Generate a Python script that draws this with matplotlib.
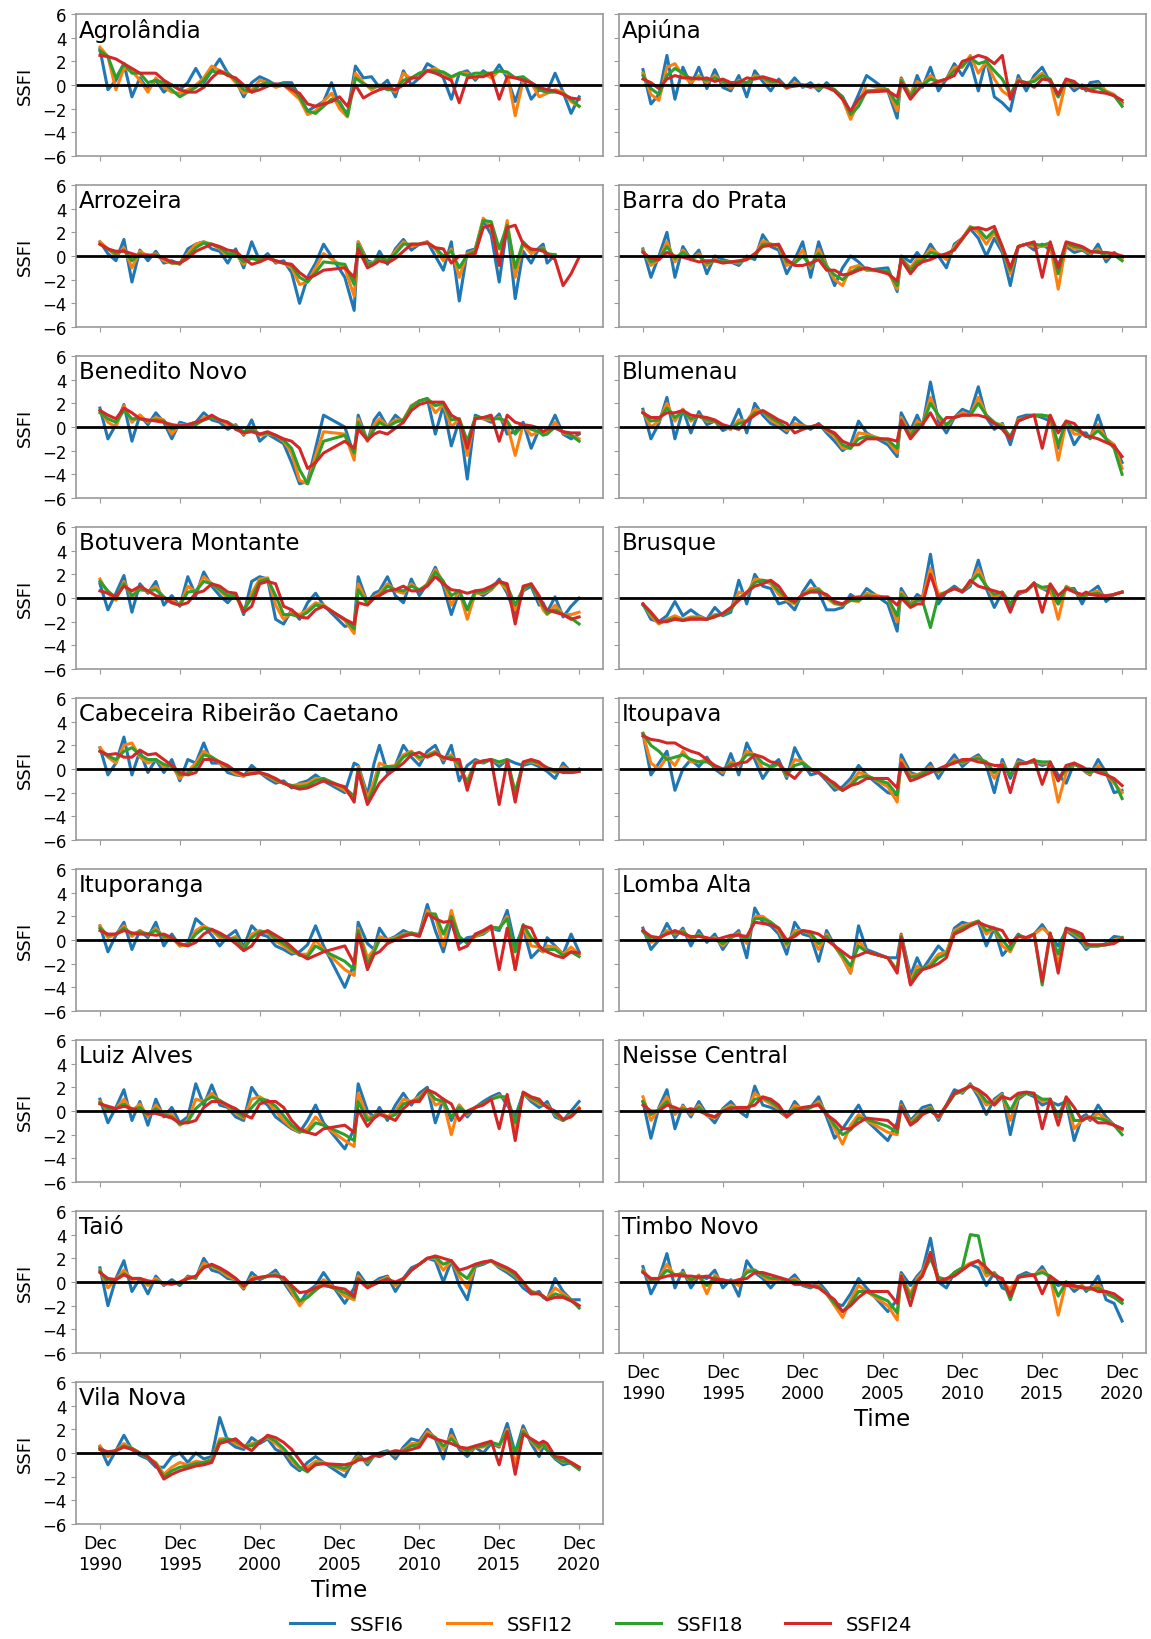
import numpy as np
import pandas as pd
import matplotlib
matplotlib.use('Agg')
import matplotlib.pyplot as plt
import matplotlib.dates as mdates

nan = np.nan

# half-yearly read-off dates; dates_b is used for every gauge except Agrolandia
dates_a = pd.date_range('1990-12-01', periods=61, freq='6MS')
dates_b = pd.DatetimeIndex(
    list(pd.date_range('1990-12-01', '2004-12-01', freq='6MS'))
    + list(pd.to_datetime(['2006-04-01', '2006-11-01', '2007-02-01', '2007-09-01', '2008-02-01']))
    + list(pd.date_range('2008-06-01', '2018-06-01', freq='6MS'))
    + [pd.Timestamp('2018-09-01')]
    + list(pd.date_range('2018-12-01', '2020-12-01', freq='6MS')))

tick_years = [1990, 1995, 2000, 2005, 2010, 2015, 2020]
tick_labels = ['Dec\n%d' % y for y in tick_years]

# ---- Agrolandia
agr_6 = [3.0,-0.4,0.4,1.8,-1.0,0.6,-0.4,0.4,-0.6,0.0, -0.4,0.2,1.4,0.2,1.2,2.2,1.0,0.4,-1.0,0.2,
         0.7,0.4,0.0,0.2,0.2,-1.0,-2.2,-1.8,-1.4,0.2, -1.8,-2.4,1.6,0.6,0.7,-0.2,0.4,-1.0,1.2,0.0,
         0.6,1.8,1.4,0.6,-1.2,1.0,1.2,0.4,1.2,0.7, 1.7,0.6,-1.4,0.6,-1.2,-0.4,-0.6,1.0,-0.6,-2.4,-1.0]
agr_12 = [3.2,2.4,-0.4,1.4,1.2,0.4,-0.6,0.6,-0.2,-0.6, -0.7,-0.4,0.0,0.6,1.6,1.2,1.0,0.2,-0.7,-0.4,
          0.4,0.2,-0.2,0.0,-0.6,-1.2,-2.5,-2.2,-1.4,-0.7, -2.0,-2.7,1.0,0.2,-0.4,0.0,-0.2,-0.6,1.0,0.5,
          1.0,1.2,1.4,1.0,0.6,1.0,1.0,0.6,1.0,0.6, 1.2,1.0,-2.6,0.4,0.2,-1.0,-0.7,-0.4,-0.6,-1.4,-1.8]
agr_18 = [2.9,2.4,0.6,1.8,1.0,1.0,0.2,0.4,0.2,-0.4, -1.0,-0.6,-0.2,0.4,1.2,1.0,1.0,0.4,-0.4,-0.6,
          0.0,0.2,0.0,0.1,-0.2,-1.0,-2.2,-2.4,-1.8,-1.2, -1.4,-2.6,0.6,0.1,-0.2,-0.1,-0.4,-0.4,0.4,0.6,
          1.0,1.2,1.2,1.1,0.7,1.0,0.8,1.0,1.0,1.0, 1.2,1.1,0.6,0.7,0.2,-0.4,-0.6,-0.6,-0.7,-1.2,-1.8]
agr_24 = [2.5,2.4,2.2,1.8,1.4,1.0,1.0,1.0,0.4,0.0, -0.4,-0.6,-0.6,-0.2,0.6,1.2,0.8,0.6,0.0,-0.6,
          -0.4,-0.1,0.1,0.0,-0.4,-0.7,-1.6,-1.8,-1.6,-1.4, -1.0,-1.8,0.0,-1.1,-0.7,-0.4,-0.2,-0.4,0.0,0.6,
          0.6,1.2,1.0,0.7,0.4,-1.5,0.6,0.7,0.7,1.0, -1.2,0.7,0.6,0.4,0.2,-0.2,-0.4,-0.5,-0.8,-1.1,-1.2]

# ---- Apiuna
api_6 = [1.3,-1.6,-0.8,2.5,-1.2,1.5,0.0,1.5,-0.3,1.3, -0.2,-0.5,0.8,-1.0,1.2,0.3,-0.5,0.5,-0.2,0.6,
         -0.2,0.2,-0.5,0.2,-0.5,-1.0,-2.3,-0.8,0.8,-0.5, -2.8,0.6,-1.0,0.8,-0.2,1.5,-0.5,0.5,1.8,0.8,
         2.0,-0.5,2.2,-1.0,-1.5,-2.2,0.8,-0.5,0.8,1.5, 0.2,-1.0,0.3,-0.5,0.0,-0.5,0.2,0.3,-0.6,-0.9,-1.5]
api_12 = [1.0,-0.8,-1.3,1.5,1.8,0.8,0.2,0.8,0.2,0.8, 0.2,-0.3,0.4,0.0,0.8,0.6,0.0,0.3,-0.3,0.2,
          -0.1,0.0,-0.3,0.0,-0.4,-1.2,-2.9,-1.5,0.0,-0.4, -2.2,0.5,-0.8,0.3,0.0,0.8,0.2,0.5,1.5,1.5,
          2.5,1.0,2.0,0.5,-0.5,-1.0,0.5,0.0,0.5,1.0, 0.3,-2.5,0.4,-0.2,0.0,-0.4,-0.2,0.1,-0.5,-0.8,-1.6]
api_18 = [0.8,-0.3,-0.8,0.8,1.4,1.0,0.5,0.6,0.4,0.6, 0.3,0.0,0.3,0.2,0.6,0.6,0.3,0.3,-0.2,0.0,
          0.0,0.0,-0.2,-0.1,-0.4,-1.0,-2.5,-1.8,-0.5,-0.4, -1.6,0.4,-1.0,0.0,0.0,0.5,0.3,0.5,1.2,1.6,
          2.3,1.8,2.0,1.2,0.5,-0.8,0.4,0.2,0.3,0.8, 0.5,-1.0,0.5,0.1,-0.1,-0.4,-0.4,-0.2,-0.6,-0.9,-1.8]
api_24 = [0.5,0.2,-0.3,0.5,0.8,0.6,0.6,0.5,0.6,0.3, 0.5,0.2,0.2,0.6,0.5,0.7,0.5,0.3,-0.2,-0.1,
          0.0,-0.2,0.0,-0.2,-0.5,-1.2,-2.2,-1.2,-0.6,-0.5, -1.0,0.2,-1.2,-0.5,0.0,0.0,0.3,0.5,0.8,2.0,
          2.2,2.5,2.3,1.8,2.5,-1.2,0.3,0.2,-0.2,0.5, 0.4,-0.8,0.5,0.3,-0.3,-0.3,-0.5,-0.6,-0.7,-0.9,-1.3]

# ---- Arrozeira
arr_6 = [1.2,0.2,-0.4,1.4,-2.2,0.5,-0.4,0.4,-0.6,-0.4, -0.7,0.6,1.0,1.2,0.6,0.4,-0.6,0.6,-1.0,1.2,
         -0.4,0.2,-0.6,-0.4,-1.4,-4.0,-1.8,-0.6,1.0,-1.8, -4.6,1.2,-0.4,-0.6,0.4,-0.7,0.6,1.4,0.5,1.0,
         1.2,0.0,-1.2,1.2,-3.8,0.4,0.6,3.0,1.8,-2.2, 2.6,-3.6,0.4,-0.6,0.7,1.0,-0.6,0.1,nan,nan,nan]
arr_12 = [1.2,0.6,0.0,0.7,-1.0,0.4,0.0,0.2,-0.4,-0.6, -0.6,0.2,1.0,1.2,1.0,0.6,0.0,0.2,-0.7,0.0,
          -0.4,0.0,-0.5,-0.6,-1.0,-2.4,-2.2,-1.0,0.2,-1.0, -3.4,1.2,-0.6,-0.5,0.0,-0.4,0.4,1.2,0.8,1.0,
          1.2,0.6,-0.4,0.6,-1.8,0.2,0.5,3.2,2.4,-0.6, 3.0,-1.8,1.0,0.2,0.6,0.7,0.0,0.0,nan,nan,nan]
arr_18 = [1.0,0.6,0.2,0.5,-0.4,0.2,0.0,0.1,-0.2,-0.6, -0.6,0.0,0.7,1.1,1.0,0.7,0.2,0.2,-0.5,-0.2,
          -0.4,-0.1,-0.4,-0.6,-0.8,-1.8,-2.2,-1.4,-0.5,-0.7, -2.4,1.0,-0.7,-0.6,-0.1,-0.4,0.2,1.0,1.0,1.0,
          1.1,0.7,0.0,0.4,-1.0,0.1,0.4,3.0,2.9,0.6, 2.6,-1.0,1.2,0.5,0.6,0.6,0.2,0.1,nan,nan,nan]
arr_24 = [1.0,0.6,0.4,0.4,0.2,0.0,0.1,0.0,-0.2,-0.5, -0.6,-0.2,0.4,0.7,1.0,0.8,0.5,0.4,-0.2,-0.7,
          -0.5,-0.2,-0.4,-0.6,-0.7,-1.4,-1.9,-1.6,-1.2,-1.0, -1.8,0.6,-1.0,-0.7,-0.4,-0.6,-0.2,0.4,1.0,1.0,
          1.1,0.7,0.6,-0.6,0.0,0.0,0.2,2.4,2.6,-0.8, 2.4,2.6,1.0,0.6,0.5,0.4,0.2,-0.3,-2.5,-1.5,-0.1]

# ---- Barra do Prata
bar_6 = [0.6,-1.8,0.0,2.0,-1.8,0.8,-0.3,0.5,-1.5,0.0, -0.3,-0.5,-0.8,0.0,-0.3,1.8,0.8,0.5,-1.5,-0.3,
         1.2,-1.8,1.2,-0.8,-2.5,-1.0,0.0,-0.5,-1.2,-1.0, -3.0,0.0,-0.5,0.3,-0.3,1.0,0.0,-1.0,1.0,1.5,
         2.3,1.5,0.0,1.5,0.3,-2.5,0.8,1.0,0.5,1.0, 0.5,-0.8,0.8,0.3,0.5,0.3,0.0,1.0,-0.5,0.3,-0.2]
bar_12 = [0.5,-0.8,-0.3,1.2,-0.5,0.5,-0.3,0.2,-0.8,-0.3, -0.5,-0.5,-0.6,-0.2,0.0,1.3,1.0,0.8,-0.8,-0.5,
          0.5,-1.0,0.6,-0.8,-2.0,-2.5,-1.0,-0.8,-1.2,-1.3, -2.8,-0.2,-1.0,-0.2,-0.3,0.6,0.2,-0.3,0.8,1.5,
          2.5,2.0,1.0,2.0,0.6,-1.5,0.8,1.0,0.8,0.8, 1.0,-2.8,1.0,0.6,0.6,0.4,0.2,0.6,-0.2,0.2,-0.2]
bar_18 = [0.4,-0.5,-0.3,0.8,-0.2,0.3,-0.2,0.0,-0.6,-0.4, -0.5,-0.5,-0.5,-0.3,0.0,1.0,1.0,0.9,-0.5,-0.6,
          0.0,-0.8,0.2,-0.9,-1.6,-2.0,-1.4,-1.0,-1.1,-1.3, -2.5,-0.2,-1.2,-0.5,-0.4,0.3,0.1,0.0,0.6,1.4,
          2.4,2.3,1.5,2.2,0.7,-1.2,0.8,1.0,1.0,0.9, 1.1,-1.5,1.1,0.8,0.7,0.5,0.3,0.4,0.0,0.1,-0.4]
bar_24 = [0.3,-0.2,-0.3,0.3,0.0,-0.1,-0.3,-0.5,-0.4,-0.4, -0.6,-0.5,-0.4,-0.3,0.2,0.8,0.9,1.0,-0.3,-0.8,
          -0.8,-0.6,-0.3,-1.2,-1.2,-1.6,-1.5,-1.2,-1.0,-1.5, -2.1,-0.3,-1.5,-0.8,-0.5,-0.3,0.0,0.2,0.5,1.5,
          2.3,2.4,2.2,2.5,0.8,-1.0,0.8,1.0,1.2,-1.8, 1.2,-1.0,1.2,1.0,0.8,0.6,0.4,0.3,0.3,0.2,0.0]

# ---- Benedito Novo
ben_6 = [1.6,-1.0,0.2,1.9,-1.2,1.0,0.2,1.2,0.4,-1.0, 0.4,0.2,0.4,1.2,0.6,0.4,-0.2,0.2,-0.7,0.6,
         -1.2,-0.6,-1.0,-1.4,-3.0,-4.8,-4.6,-1.8,1.0,0.0, -2.4,1.0,-1.2,0.6,1.2,0.0,1.0,0.4,1.8,2.2,
         2.4,-0.6,1.8,-1.6,0.6,-4.4,1.0,0.7,0.4,1.1, -0.6,-0.4,0.4,-1.8,-0.2,-0.6,-0.4,1.0,-0.6,-1.0,-0.6]
ben_12 = [1.4,0.4,0.0,1.8,0.4,1.0,0.4,0.8,0.6,-0.6, 0.2,0.2,0.2,0.8,0.8,0.6,0.2,0.1,-0.6,0.0,
          -0.7,-0.6,-0.7,-1.2,-2.2,-4.5,-4.8,-2.4,-0.4,-0.6, -2.8,0.7,-1.2,0.2,0.7,0.1,0.6,0.6,1.8,2.2,
          2.4,1.2,1.9,0.0,0.7,-2.4,0.8,0.7,0.6,0.8, 0.2,-2.4,0.2,-0.7,-0.4,-0.6,-0.5,0.4,-0.5,-0.7,-1.0]
ben_18 = [1.2,0.7,0.4,1.4,0.7,0.7,0.5,0.6,0.5,-0.2, 0.1,0.2,0.2,0.6,0.8,0.6,0.4,0.0,-0.4,-0.2,
          -0.6,-0.5,-0.7,-1.1,-1.8,-3.6,-4.8,-3.0,-1.2,-0.7, -2.2,0.4,-1.1,-0.2,0.4,0.0,0.4,0.6,1.7,2.2,
          2.4,1.8,2.0,0.6,0.7,-1.2,0.8,0.8,0.7,0.7, 0.5,-0.6,0.2,-0.2,-0.4,-0.7,-0.6,0.0,-0.4,-0.7,-1.2]
ben_24 = [1.4,1.0,0.7,1.6,1.2,0.7,0.6,0.5,0.4,0.2, 0.1,0.2,0.4,0.6,1.0,0.6,0.4,-0.2,-0.5,-0.4,
          -0.6,-0.4,-0.7,-1.0,-1.2,-1.8,-3.5,-3.0,-2.2,-1.2, -1.8,-0.2,-1.1,-0.6,-0.4,-0.6,-0.1,0.4,1.4,1.9,
          2.1,2.1,2.1,1.0,0.6,-1.8,0.7,0.8,1.0,-1.2, 1.0,0.4,0.2,0.1,-0.1,-0.4,-0.2,-0.1,-0.4,-0.5,-0.5]

# ---- Blumenau
blu_6 = [1.5,-1.0,0.3,2.5,-1.0,1.5,-0.5,1.3,0.2,0.5, -0.3,0.0,1.5,-0.5,2.0,1.0,0.3,0.0,-0.5,0.8,
         0.2,-0.2,0.3,-0.5,-1.2,-2.0,-1.5,0.5,-0.5,-1.5, -2.5,1.2,-0.3,1.0,0.0,3.8,0.5,-0.5,0.8,1.5,
         1.2,3.4,0.8,-0.2,0.3,-1.5,0.8,1.0,1.0,0.8, 0.5,-1.8,0.3,-1.5,-0.5,-0.5,-1.0,1.0,-1.0,-1.5,-3.0]
blu_12 = [1.3,0.0,0.5,2.0,0.5,1.5,0.5,1.0,0.5,0.5, 0.0,-0.2,0.6,0.5,1.5,1.3,0.6,0.2,-0.3,0.3,
          0.1,0.0,0.2,-0.3,-0.8,-1.8,-1.8,-0.5,-0.6,-1.2, -2.2,0.8,-0.6,0.5,0.2,2.5,0.8,0.0,0.8,1.2,
          1.0,2.5,1.0,0.3,0.2,-1.0,0.6,0.8,1.0,1.0, 0.8,-2.8,0.4,-0.6,-0.6,-0.8,-0.8,0.2,-1.0,-1.5,-3.5]
blu_18 = [1.2,0.5,0.6,1.6,0.8,1.3,0.7,0.9,0.6,0.5, 0.1,-0.1,0.3,0.5,1.2,1.3,0.8,0.4,-0.1,0.0,
          0.0,0.0,0.2,-0.2,-0.6,-1.5,-1.8,-1.0,-0.8,-1.1, -1.8,0.6,-0.8,0.2,0.2,2.0,1.0,0.2,0.8,1.0,
          1.0,2.0,1.0,0.4,0.0,-0.8,0.5,0.8,1.0,1.0, 0.9,-1.5,0.5,-0.2,-0.5,-0.8,-0.9,-0.3,-1.0,-1.8,-4.0]
blu_24 = [1.2,0.8,0.8,1.2,1.2,1.4,1.0,0.9,0.8,0.6, 0.2,0.0,-0.2,0.5,1.0,1.4,1.0,0.6,0.3,-0.5,
          -0.2,0.0,0.2,-0.2,-0.5,-1.2,-1.5,-1.5,-1.0,-1.0, -1.2,0.5,-1.0,-0.3,0.2,1.2,0.0,0.8,0.8,1.0,
          1.0,1.0,0.8,0.3,-0.2,-1.0,0.5,0.8,1.0,-1.8, 1.0,-0.5,0.5,0.3,-0.5,-0.8,-0.8,-1.0,-1.3,-1.6,-2.5]

# ---- Botuvera Montante
bot_6 = [1.2,-1.0,0.4,1.9,-1.2,1.2,0.4,1.4,-0.6,0.2, -0.7,1.8,0.2,2.2,1.0,0.2,-0.4,0.4,-1.4,1.4,
         1.8,1.6,-1.8,-2.2,-1.0,-1.8,-0.4,0.4,-0.6,-2.4, -2.2,1.8,-0.4,0.4,0.6,1.8,0.2,-0.4,1.6,0.2,
         1.2,2.6,1.0,-1.4,0.6,-1.0,0.6,0.2,0.7,1.6, 0.4,-1.4,0.6,1.0,-0.6,-0.4,-1.2,0.1,-1.6,-0.7,0.0]
bot_12 = [1.6,0.4,-0.2,1.4,0.0,1.0,0.5,1.0,0.0,-0.2, -0.6,1.0,0.5,1.8,1.2,0.6,0.0,0.2,-1.2,0.4,
          1.6,1.7,-0.6,-1.8,-1.2,-1.4,-1.0,-0.4,-0.6,-1.9, -3.0,1.2,-0.4,0.1,0.4,1.2,0.6,0.4,1.2,0.6,
          1.2,2.4,1.4,-0.6,0.6,-1.8,0.4,0.4,0.7,1.4, 0.7,-1.0,0.7,1.2,-0.2,-1.0,-1.4,-0.6,-1.4,-1.4,-1.2]
bot_18 = [1.4,0.6,0.0,1.2,0.2,0.7,0.6,0.7,0.1,-0.4, -0.6,0.5,0.6,1.4,1.2,0.7,0.2,0.2,-1.0,0.0,
          1.4,1.6,0.2,-1.4,-1.4,-1.6,-1.2,-0.6,-0.7,-1.8, -2.6,0.7,-0.5,0.0,0.2,1.0,0.7,0.6,1.0,0.7,
          1.1,2.2,1.4,0.2,0.6,-1.0,0.5,0.5,0.8,1.4, 1.0,-0.6,0.8,1.1,0.0,-0.7,-1.3,-1.0,-1.4,-1.7,-2.2]
bot_24 = [0.6,0.4,0.1,1.0,0.6,1.0,0.6,0.2,0.0,-0.4, -0.6,-0.4,0.4,0.6,1.2,1.0,0.5,0.4,-1.2,-0.7,
          1.2,1.4,1.2,-0.7,-1.0,-1.6,-1.7,-1.0,-0.7,-1.8, -2.2,-0.4,-0.6,0.0,0.2,0.6,0.7,1.0,0.6,0.6,
          1.0,1.8,1.2,0.7,0.6,0.4,0.6,0.7,1.0,1.4, 1.2,-2.2,1.0,1.2,0.2,-0.6,-1.0,-1.2,-1.4,-1.8,-1.6]

# ---- Brusque
bru_6 = [-0.5,-1.8,-2.0,-1.5,-0.3,-1.5,-1.0,-1.5,-1.8,-0.8, -1.5,-1.2,1.5,-0.5,2.0,1.0,0.8,-0.5,-0.3,-1.0,
         0.5,1.5,0.5,-1.0,-1.0,-0.8,0.3,-0.2,0.8,-0.5, -2.8,0.8,-0.5,0.3,0.0,3.7,-0.5,0.5,1.0,0.5,
         1.0,3.2,0.8,-0.8,0.5,-0.8,0.3,0.6,1.2,0.8, 0.5,-0.5,0.8,0.8,-0.5,0.2,0.5,1.0,-0.3,0.3,0.5]
bru_12 = [-0.5,-1.5,-2.2,-1.8,-1.5,-1.8,-1.6,-1.6,-1.8,-1.4, -1.4,-1.0,0.5,0.3,1.6,1.5,1.2,0.3,-0.2,-0.5,
          0.3,0.8,0.8,0.0,-0.5,-0.6,-0.2,-0.3,0.4,0.0, -2.0,0.5,-0.5,0.0,0.0,2.5,0.3,0.5,0.8,0.6,
          1.2,2.5,1.0,0.0,0.5,-0.5,0.4,0.6,1.2,0.8, 0.8,-1.8,1.0,0.6,0.0,0.2,0.4,0.6,0.0,0.3,0.5]
bru_18 = [-0.6,-1.3,-2.1,-1.9,-1.7,-1.9,-1.7,-1.7,-1.8,-1.5, -1.4,-1.0,0.0,0.4,1.3,1.5,1.4,0.6,0.0,-0.4,
          0.2,0.6,0.7,0.2,-0.4,-0.6,-0.2,-0.2,0.2,0.0, -1.5,0.3,-0.6,-0.2,-0.2,-2.5,0.2,0.5,0.8,0.6,
          1.3,2.0,1.0,0.3,0.5,-0.5,0.5,0.6,1.2,0.9, 1.0,-0.5,0.9,0.6,0.1,0.3,0.3,0.4,0.1,0.3,0.5]
bru_24 = [-0.5,-1.2,-2.0,-2.0,-1.8,-1.9,-1.8,-1.8,-1.8,-1.6, -1.3,-0.8,-0.2,0.5,1.0,1.2,1.5,1.0,0.0,-0.3,
          0.3,0.5,0.5,0.3,-0.3,-0.5,0.0,0.1,0.0,0.1, -0.6,0.0,-0.8,-0.5,-0.5,2.0,0.0,0.5,0.8,0.5,
          1.5,1.0,0.8,0.6,0.4,-1.2,0.5,0.6,1.3,-1.2, 1.2,0.2,0.8,0.5,0.3,0.5,0.3,0.2,0.2,0.3,0.5]

# ---- Cabeceira Ribeirao Caetano
cab_6 = [1.8,-0.5,0.5,2.7,-0.5,1.5,-0.3,0.8,-0.3,0.8, -1.0,0.8,0.5,2.2,0.5,0.5,-0.3,-0.5,-0.6,0.3,
         -0.3,-0.8,-1.2,-1.0,-1.6,-1.2,-1.0,-0.5,-1.0,-2.0, 0.5,0.3,-2.2,0.5,2.0,-0.3,0.3,2.0,1.0,0.3,
         1.5,2.0,0.5,2.0,-1.0,0.3,0.8,0.5,0.8,0.2, 0.8,0.5,0.3,0.5,0.2,0.0,-0.2,-0.8,0.5,-0.3,0.0]
cab_12 = [1.8,1.0,0.5,2.0,2.2,1.0,0.5,0.8,0.2,0.3, -0.8,-0.2,0.5,1.5,1.0,0.5,0.0,-0.4,-0.6,-0.2,
          -0.3,-0.6,-1.0,-1.2,-1.4,-1.3,-1.2,-0.8,-0.8,-1.8, -2.5,0.2,-2.5,-1.0,0.5,0.2,0.3,1.2,1.5,0.8,
          1.2,1.5,0.8,1.2,0.0,-1.0,0.6,0.6,0.8,0.5, 0.8,-2.0,0.5,0.6,0.4,0.2,0.0,-0.3,0.2,-0.2,-0.1]
cab_18 = [1.5,1.1,0.8,1.5,1.8,1.2,0.8,0.8,0.4,0.2, -0.5,-0.4,0.2,1.2,1.0,0.6,0.2,-0.2,-0.5,-0.4,
          -0.3,-0.5,-0.9,-1.2,-1.4,-1.5,-1.4,-1.0,-0.8,-1.6, -2.3,0.0,-2.8,-1.5,0.0,0.2,0.2,1.0,1.4,1.0,
          1.1,1.4,0.9,1.0,0.4,-1.2,0.5,0.6,0.8,0.6, 0.8,-2.0,0.5,0.7,0.5,0.3,0.1,-0.2,-0.1,-0.3,-0.2]
cab_24 = [1.5,1.2,1.3,1.0,1.0,1.6,1.2,1.3,0.8,0.3, -0.3,-0.5,-0.3,0.8,0.8,0.6,0.3,-0.2,-0.5,-0.4,
          -0.3,-0.5,-0.8,-1.2,-1.5,-1.7,-1.6,-1.3,-1.0,-1.5, -2.8,-0.2,-3.0,-2.0,-1.2,-0.5,0.0,0.5,1.2,1.4,
          1.0,1.3,1.0,0.8,0.8,-1.8,0.5,0.7,0.8,-3.0, 0.7,-2.8,0.6,0.8,0.6,0.3,0.1,-0.1,-0.3,-0.3,-0.2]

# ---- Itoupava
ito_6 = [3.0,-0.5,0.5,1.5,-1.8,0.0,0.8,0.2,1.0,0.0, -0.5,1.3,-0.5,2.2,0.8,-0.8,0.2,0.8,-0.8,1.8,
         0.5,-0.5,-0.3,-1.0,-1.8,-1.5,-0.8,0.3,-0.5,-2.0, -2.2,1.2,-0.3,-0.5,-0.3,0.5,-0.8,0.3,1.2,0.2,
         0.8,1.2,0.3,-2.0,0.8,-0.8,0.8,0.5,0.6,0.3, 0.5,-0.5,-1.2,0.5,0.0,-0.3,-0.5,0.8,-0.3,-2.0,-1.8]
ito_12 = [3.0,0.5,0.0,1.0,0.3,1.5,0.6,0.6,0.8,0.2, -0.3,0.6,0.3,1.5,1.2,0.0,0.0,0.5,-0.6,0.8,
          0.6,0.0,-0.3,-0.8,-1.5,-1.8,-1.2,-0.3,-0.5,-1.5, -2.8,0.8,-0.5,-0.5,-0.3,0.2,-0.3,0.2,0.8,0.5,
          0.8,1.0,0.5,-0.8,0.5,-0.5,0.6,0.5,0.6,0.5, 0.5,-2.8,-0.3,0.4,0.1,-0.3,-0.4,0.3,-0.4,-1.2,-2.0]
ito_18 = [3.0,2.0,1.5,0.8,1.0,1.2,0.8,0.6,0.6,0.2, -0.1,0.4,0.4,1.2,1.2,0.5,0.2,0.4,-0.5,0.3,
          0.5,0.0,-0.3,-0.7,-1.4,-1.8,-1.4,-0.7,-0.6,-1.2, -2.2,0.5,-0.7,-0.6,-0.4,0.0,-0.2,0.2,0.6,0.6,
          0.8,0.9,0.6,-0.3,0.4,-0.5,0.5,0.5,0.7,0.6, 0.6,-1.0,0.0,0.4,0.1,-0.2,-0.3,0.0,-0.4,-1.0,-2.5]
ito_24 = [2.8,2.5,2.4,2.2,2.2,1.8,1.5,1.3,0.8,0.3, 0.0,0.2,0.5,0.6,1.2,1.0,0.6,0.5,-0.3,-0.8,
          0.0,-0.1,-0.3,-0.8,-1.2,-1.8,-1.4,-1.2,-0.8,-0.8, -1.6,0.5,-1.0,-0.8,-0.6,-0.3,0.0,0.3,0.5,0.8,
          0.8,0.6,0.5,0.3,0.3,-2.0,0.4,0.5,0.8,-1.3, 0.6,-1.0,0.3,0.5,0.2,0.0,0.0,-0.3,-0.5,-0.8,-1.4]

# ---- Ituporanga
itu_6 = [1.2,-1.0,0.4,1.5,-0.8,0.8,0.2,1.5,-0.5,0.5, -0.5,-0.3,1.8,1.2,0.4,-0.5,0.3,0.8,-0.6,1.2,
         0.5,0.3,-0.5,-0.8,-1.2,-1.0,-0.4,1.2,-0.5,-4.0, -2.0,1.5,-0.3,-0.8,1.0,0.0,0.3,0.8,0.5,0.5,
         3.0,0.8,-1.0,1.5,-0.3,0.2,0.3,0.5,1.0,0.8, 2.5,-0.5,1.0,-1.5,-0.8,-1.0,0.2,-0.5,-1.2,0.5,-1.0]
itu_12 = [1.2,0.2,0.5,1.2,0.3,0.8,0.4,1.0,0.2,0.2, -0.5,-0.4,0.8,1.2,0.8,0.2,0.0,0.3,-0.8,0.5,
          0.8,0.6,-0.1,-0.5,-1.0,-1.2,-1.2,0.0,-0.8,-2.5, -3.0,1.0,-1.5,-0.8,0.3,0.0,0.2,0.5,0.6,0.4,
          2.5,2.0,-0.5,2.5,0.2,-0.2,0.3,0.6,1.0,1.0, 2.0,-2.5,1.2,-0.5,-0.6,-1.0,-0.5,-0.6,-1.2,-0.6,-1.2]
itu_18 = [1.0,0.4,0.5,1.0,0.5,0.7,0.5,0.8,0.3,0.2, -0.4,-0.4,0.5,1.0,0.9,0.4,0.1,0.1,-0.8,0.2,
          0.7,0.7,0.1,-0.3,-0.8,-1.3,-1.4,-0.5,-0.9,-1.8, -2.5,0.8,-2.0,-1.0,0.0,-0.1,0.1,0.4,0.6,0.4,
          2.2,2.2,0.5,2.0,0.3,-0.3,0.4,0.7,1.1,1.0, 1.8,-1.0,1.3,0.2,-0.5,-0.9,-0.8,-0.8,-1.3,-1.0,-1.4]
itu_24 = [0.8,0.5,0.5,0.8,0.6,0.5,0.5,0.4,0.5,0.2, -0.3,-0.5,-0.2,0.5,0.9,0.6,0.2,-0.3,-0.9,-0.5,
          0.5,0.8,0.4,0.0,-0.6,-1.2,-1.6,-1.3,-1.0,-0.5, -2.0,0.5,-2.5,-1.2,-1.0,-0.3,0.0,0.3,0.5,0.3,
          2.2,1.8,1.5,1.6,-0.8,-0.5,0.5,0.8,1.2,-2.5, 1.0,-2.5,1.2,1.0,-0.5,-0.8,-1.0,-1.3,-1.5,-1.0,-1.1]

# ---- Lomba Alta
lom_6 = [1.0,-0.8,0.0,1.4,0.2,1.0,-0.5,0.8,-0.2,0.5, -0.8,0.2,0.8,-1.5,2.7,1.5,1.2,0.5,-1.2,1.5,
         0.5,0.3,-1.8,0.8,-0.5,-1.5,-2.8,1.2,-0.8,-1.5, -1.5,0.5,-3.0,-1.5,-2.5,-1.5,-0.5,-1.2,1.0,1.5,
         1.3,1.5,-0.5,1.0,-1.3,-0.5,0.5,0.0,0.5,1.3, 0.3,-0.5,0.8,0.3,-0.3,-0.8,-0.5,-0.5,-0.3,0.3,0.2]
lom_12 = [0.8,-0.2,0.1,0.8,0.5,0.8,0.0,0.5,0.0,0.2, -0.5,0.2,0.6,-0.3,2.0,2.0,1.5,0.8,-0.5,0.8,
          0.8,0.5,-0.8,0.5,-0.5,-1.5,-2.8,0.0,-1.0,-1.5, -2.5,0.4,-3.5,-2.2,-2.5,-2.0,-1.2,-1.0,0.8,1.2,
          1.4,1.6,0.5,1.0,-0.5,-1.0,0.4,0.1,0.5,1.0, 0.5,-2.0,0.9,0.5,0.0,-0.6,-0.5,-0.5,-0.4,0.0,0.2]
lom_18 = [0.7,0.0,0.1,0.6,0.6,0.7,0.2,0.4,0.1,0.1, -0.3,0.2,0.5,0.0,1.8,1.8,1.5,1.0,-0.3,0.5,
          0.8,0.6,-0.3,0.3,-0.5,-1.3,-2.2,-0.5,-1.0,-1.5, -2.6,0.3,-3.7,-2.6,-2.4,-2.2,-1.5,-1.2,0.6,1.0,
          1.3,1.6,0.8,1.0,0.0,-0.8,0.4,0.2,0.5,-3.8, 0.5,-1.2,1.0,0.6,0.2,-0.5,-0.5,-0.5,-0.4,-0.2,0.2]
lom_24 = [0.8,0.3,0.2,0.5,0.8,0.5,0.3,0.3,0.2,0.0, 0.2,0.4,0.4,0.3,1.5,1.4,1.3,1.0,0.0,0.3,
          0.8,0.7,0.5,0.0,-0.5,-1.0,-1.5,-1.3,-1.0,-1.5, -2.8,0.2,-3.8,-3.0,-2.5,-2.3,-2.0,-1.5,0.5,0.8,
          1.2,1.5,1.2,1.0,0.8,-0.3,0.3,0.2,0.5,-3.5, 0.6,-2.8,1.0,0.8,0.5,-0.3,-0.4,-0.4,-0.4,-0.3,0.1]

# ---- Luiz Alves
lui_6 = [1.0,-1.0,0.3,1.8,-0.8,0.8,-1.2,1.0,-0.5,0.3, -1.0,-0.5,2.3,0.5,2.2,0.5,0.3,-0.5,-0.8,2.0,
         1.0,0.5,-0.5,-1.0,-1.5,-1.8,-0.8,0.5,-1.0,-3.2, -1.5,2.3,0.0,-0.5,0.3,-0.8,0.5,1.5,0.5,1.5,
         2.0,-1.0,1.0,-0.8,0.5,-0.5,0.3,0.8,1.2,1.5, 0.5,-0.5,1.5,0.8,0.3,0.5,0.8,-0.5,-0.8,0.0,0.8]
lui_12 = [0.8,0.0,0.2,1.0,0.0,0.6,-0.5,0.5,-0.3,-0.3, -1.2,-0.8,1.0,0.8,1.5,0.8,0.4,-0.2,-0.6,1.0,
          1.2,0.8,0.0,-0.8,-1.4,-1.8,-1.5,-0.5,-1.2,-2.5, -3.0,1.5,-0.5,-0.5,0.0,-0.5,0.0,1.0,0.8,1.2,
          1.8,0.5,0.8,-2.0,0.5,-0.3,0.3,0.6,1.0,1.3, 1.0,-1.8,1.4,1.0,0.6,0.5,0.5,-0.3,-0.8,-0.3,0.3]
lui_18 = [0.7,0.2,0.2,0.6,0.1,0.3,-0.3,0.2,-0.3,-0.5, -1.1,-0.9,0.2,0.8,1.2,0.9,0.5,0.0,-0.5,0.3,
          1.0,0.9,0.4,-0.4,-1.2,-1.7,-1.8,-1.0,-1.2,-2.0, -2.5,0.8,-0.8,-0.5,-0.2,-0.6,-0.3,0.6,0.8,1.0,
          1.8,1.0,0.8,-0.5,0.3,-0.2,0.3,0.6,1.0,1.2, 1.2,-1.0,1.5,1.1,0.8,0.5,0.4,-0.2,-0.8,-0.4,0.1]
lui_24 = [0.6,0.4,0.2,0.4,0.2,0.0,-0.2,-0.2,-0.4,-0.6, -1.0,-1.0,-0.8,0.3,0.8,0.8,0.5,0.2,-0.3,-0.6,
          0.6,0.8,0.8,0.3,-0.8,-1.5,-1.8,-2.0,-1.5,-1.2, -1.8,0.1,-1.3,-0.6,-0.3,-0.5,-0.8,0.2,0.8,0.8,
          1.8,1.5,1.0,0.6,-0.8,0.0,0.3,0.5,1.0,-1.5, 1.4,-2.5,1.6,1.2,1.0,0.6,0.3,0.0,-0.7,-0.5,0.2]

# ---- Neisse Central
nei_6 = [0.8,-2.3,0.3,1.8,-1.5,0.5,-0.5,0.8,-0.3,-1.0, 0.2,0.8,0.0,-0.5,2.1,0.5,0.3,0.0,-0.5,0.8,
         0.0,0.3,1.2,-0.5,-2.3,-1.5,-0.5,0.5,-0.8,-2.5, -1.0,0.8,-0.8,-0.2,0.3,0.5,-0.8,0.5,1.8,1.5,
         2.3,1.2,-0.3,1.0,1.5,-2.0,1.0,1.5,1.2,0.5, 0.8,0.5,0.8,-2.5,-0.5,-0.3,-0.8,0.5,-0.5,-1.2,-1.5]
nei_12 = [1.2,-0.8,0.2,1.2,-0.3,0.4,-0.3,0.5,-0.4,-0.6, 0.1,0.5,0.2,0.0,1.5,1.0,0.6,0.2,-0.5,0.5,
          0.2,0.3,0.8,-0.2,-1.5,-2.8,-1.2,-0.3,-0.8,-1.8, -2.0,0.5,-1.0,-0.4,0.0,0.3,-0.6,0.4,1.5,1.6,
          2.2,1.5,0.5,0.8,1.4,-0.8,1.2,1.5,1.4,0.8, 1.0,-0.5,1.0,-1.5,-0.8,-0.5,-0.7,-0.2,-0.7,-1.2,-1.6]
nei_18 = [0.8,-0.3,0.1,0.8,0.0,0.2,-0.1,0.3,-0.3,-0.5, 0.0,0.3,0.2,0.1,1.0,1.1,0.8,0.3,-0.4,0.2,
          0.2,0.3,0.6,-0.2,-1.2,-2.0,-1.6,-0.6,-0.7,-1.3, -1.8,0.4,-1.1,-0.6,-0.1,0.2,-0.5,0.4,1.4,1.7,
          2.1,1.7,0.8,0.6,1.3,0.0,1.3,1.5,1.4,1.0, 1.0,-0.5,1.1,-0.8,-0.8,-0.6,-0.6,-0.6,-0.8,-1.2,-2.0]
nei_24 = [0.5,0.0,0.0,0.5,0.3,0.0,0.2,0.0,-0.3,-0.5, 0.0,0.2,0.3,0.3,0.5,1.2,1.0,0.5,-0.5,0.0,
          0.3,0.4,0.5,-0.3,-0.8,-1.5,-1.5,-1.0,-0.6,-0.8, -1.5,0.3,-1.2,-0.8,-0.3,0.0,-0.5,0.5,1.5,1.8,
          2.1,1.8,1.3,0.5,1.2,1.0,1.5,1.6,1.5,-1.5, 1.0,-1.2,1.2,0.3,-0.8,-0.6,-0.5,-1.0,-1.0,-1.2,-1.5]

# ---- Taio
tai_6 = [1.2,-2.0,0.3,1.8,-0.8,0.3,-1.0,0.5,-0.3,0.2, -0.3,0.5,0.3,2.0,1.0,0.8,0.3,0.2,-0.6,0.8,
         0.2,0.5,1.0,0.0,-1.0,-1.8,-0.8,-0.3,0.8,-1.8, -0.5,0.8,-0.3,0.0,0.3,0.5,-0.8,0.3,1.2,1.5,
         2.0,1.8,0.0,1.8,-0.3,-1.5,1.3,1.5,1.8,1.2, 0.8,0.3,-0.5,-1.0,-0.8,-1.3,-1.5,0.3,-0.8,-1.5,-1.5]
tai_12 = [1.0,-0.5,0.2,1.0,0.2,0.3,-0.3,0.3,-0.2,0.0, -0.1,0.4,0.4,1.6,1.3,1.0,0.5,0.2,-0.5,0.4,
          0.3,0.5,0.7,0.2,-0.8,-2.0,-1.2,-0.5,0.2,-1.2, -1.5,0.5,-0.4,-0.1,0.1,0.4,-0.3,0.2,1.0,1.5,
          2.0,2.0,1.0,1.8,0.5,-0.5,1.4,1.6,1.8,1.3, 1.0,0.5,-0.2,-0.8,-1.0,-1.2,-1.4,-0.5,-1.0,-1.5,-2.0]
tai_18 = [0.9,0.0,0.2,0.7,0.3,0.3,-0.1,0.1,-0.1,-0.1, -0.1,0.3,0.4,1.3,1.4,1.1,0.7,0.3,-0.4,0.2,
          0.3,0.5,0.6,0.3,-0.5,-1.6,-1.3,-0.7,-0.2,-0.9, -1.3,0.3,-0.4,-0.2,0.0,0.3,-0.1,0.2,1.0,1.5,
          2.0,2.1,1.5,1.8,0.8,0.3,1.4,1.6,1.8,1.4, 1.1,0.6,-0.1,-0.8,-1.0,-1.2,-1.5,-1.0,-1.2,-1.5,-2.2]
tai_24 = [0.8,0.3,0.2,0.6,0.3,0.3,0.1,0.0,-0.1,-0.2, 0.0,0.3,0.5,1.2,1.5,1.2,0.8,0.3,-0.3,0.2,
          0.4,0.5,0.5,0.4,-0.3,-0.9,-0.8,-0.5,-0.3,-0.6, -1.2,0.2,-0.5,-0.2,0.0,0.2,0.0,0.3,1.0,1.5,
          2.0,2.2,2.0,1.8,1.0,1.2,1.5,1.7,1.8,1.5, 1.2,0.8,0.0,-1.0,-1.0,-1.2,-1.5,-1.3,-1.3,-1.6,-2.0]

# ---- Timbo Novo
tim_6 = [1.3,-1.0,0.3,2.4,-0.5,1.0,-0.5,0.5,0.3,1.0, -0.5,0.2,-1.2,1.8,0.8,0.3,-0.5,0.3,0.0,0.6,
         -0.3,-0.5,0.0,-0.8,-1.8,-2.0,-1.0,0.3,-0.5,-2.5, -1.5,0.8,-0.3,0.5,1.0,3.7,0.0,-0.5,0.8,1.2,
         1.5,1.2,-0.3,0.8,-0.5,-0.8,0.5,0.8,0.5,1.3, 0.2,-0.3,0.0,-0.8,-0.3,-0.8,-0.5,0.5,-1.5,-1.8,-3.3]
tim_12 = [1.0,0.0,0.3,1.5,0.5,0.8,0.0,0.6,-1.0,0.6, 0.0,0.1,-0.3,1.0,1.0,0.5,0.0,0.3,0.0,0.3,
          -0.2,-0.4,-0.3,-1.0,-2.0,-3.0,-1.5,-0.3,-0.8,-2.0, -3.2,0.6,-1.0,0.3,0.8,2.5,0.3,0.0,0.8,1.2,
          1.6,1.8,0.5,0.8,0.0,-0.6,0.4,0.6,0.6,1.0, 0.4,-2.8,0.0,-0.5,-0.3,-0.6,-0.6,-0.2,-1.0,-1.3,-1.6]
tim_18 = [0.9,0.2,0.3,1.0,0.6,0.7,0.2,0.5,-0.3,0.4, 0.1,0.1,0.0,0.8,1.0,0.6,0.3,0.3,0.1,0.1,
          -0.2,-0.4,-0.4,-1.0,-1.8,-2.5,-1.8,-0.8,-0.8,-1.6, -2.6,0.5,-1.3,0.1,0.6,2.0,0.4,0.2,0.8,1.2,
          4.0,3.9,0.8,0.7,0.2,-1.5,0.4,0.6,0.6,0.8, 0.5,-1.2,0.0,-0.4,-0.4,-0.6,-0.6,-0.5,-0.9,-1.3,-1.8]
tim_24 = [0.8,0.3,0.3,0.5,0.6,0.5,0.5,0.4,0.5,0.2, 0.2,0.0,0.2,0.3,0.8,0.8,0.6,0.4,0.2,-0.2,
          -0.2,-0.3,-0.5,-1.0,-1.5,-2.5,-2.0,-1.3,-0.8,-0.8, -1.8,0.5,-2.0,0.0,0.5,2.5,0.0,0.3,0.5,1.0,
          1.5,1.8,1.2,0.5,0.3,-1.2,0.4,0.5,0.6,-1.0, 0.5,0.0,-0.3,-0.3,-0.5,-0.5,-0.5,-0.8,-0.8,-1.0,-1.5]

# ---- Vila Nova
vil_6 = [0.5,-1.0,0.2,1.5,0.3,-0.2,-0.5,-1.2,-1.2,-0.3, 0.0,-0.8,0.0,-0.5,-0.3,3.0,1.0,0.5,0.3,1.3,
         0.8,1.2,0.3,0.0,-1.0,-1.5,-0.8,-0.3,-0.8,-2.0, -0.5,0.0,-1.0,-0.2,0.0,0.2,-0.5,0.5,1.2,1.0,
         2.0,1.2,-0.5,2.0,0.3,-0.3,0.5,0.0,0.8,0.5, 2.5,0.0,2.3,0.8,-0.3,0.5,0.3,-0.5,-1.0,-0.8,-1.3]
vil_12 = [0.6,-0.3,0.2,0.8,0.4,0.0,-0.4,-0.8,-1.8,-1.2, -0.8,-1.0,-0.7,-0.8,-0.5,1.2,1.2,0.8,0.5,0.8,
          1.0,1.3,0.8,0.2,-0.6,-1.3,-1.2,-0.7,-0.8,-1.5, -0.6,-0.3,-0.8,-0.2,-0.1,0.1,-0.2,0.3,0.8,0.8,
          1.8,1.3,0.3,1.5,0.5,0.0,0.5,0.5,0.9,0.6, 2.0,-1.0,2.0,1.0,0.3,0.7,0.5,-0.4,-0.8,-0.8,-1.2]
vil_18 = [0.4,0.0,0.2,0.6,0.4,0.0,-0.4,-0.9,-2.0,-1.5, -1.2,-1.1,-0.9,-0.8,-0.6,1.0,1.2,1.0,0.6,0.6,
          1.0,1.4,1.0,0.4,-0.4,-1.2,-1.6,-0.9,-0.9,-1.3, -0.8,-0.4,-0.7,-0.2,-0.2,0.0,0.0,0.2,0.6,0.7,
          1.6,1.3,0.6,1.2,0.5,0.2,0.5,0.6,0.9,0.7, 1.8,0.0,1.8,1.1,0.5,0.8,0.2,-0.4,-0.7,-0.9,-1.4]
vil_24 = [0.3,0.1,0.2,0.5,0.3,0.0,-0.3,-1.0,-2.2,-1.8, -1.5,-1.3,-1.1,-1.0,-0.8,0.8,1.0,1.2,0.6,0.2,
          0.9,1.5,1.3,0.9,0.3,-0.6,-1.5,-1.0,-0.9,-1.0, -0.8,-0.6,-0.5,-0.2,-0.3,0.0,0.2,0.1,0.3,0.5,
          1.5,1.2,1.0,0.8,0.5,0.4,0.6,0.8,1.0,-1.0, 1.8,-1.8,1.6,1.2,0.8,1.0,0.8,-0.3,-0.4,-0.8,-1.2]

panels = [
    ('Agrolândia', dates_a, agr_6, agr_12, agr_18, agr_24),
    ('Apiúna', dates_b, api_6, api_12, api_18, api_24),
    ('Arrozeira', dates_b, arr_6, arr_12, arr_18, arr_24),
    ('Barra do Prata', dates_b, bar_6, bar_12, bar_18, bar_24),
    ('Benedito Novo', dates_b, ben_6, ben_12, ben_18, ben_24),
    ('Blumenau', dates_b, blu_6, blu_12, blu_18, blu_24),
    ('Botuvera Montante', dates_b, bot_6, bot_12, bot_18, bot_24),
    ('Brusque', dates_b, bru_6, bru_12, bru_18, bru_24),
    ('Cabeceira Ribeirão Caetano', dates_b, cab_6, cab_12, cab_18, cab_24),
    ('Itoupava', dates_b, ito_6, ito_12, ito_18, ito_24),
    ('Ituporanga', dates_b, itu_6, itu_12, itu_18, itu_24),
    ('Lomba Alta', dates_b, lom_6, lom_12, lom_18, lom_24),
    ('Luiz Alves', dates_b, lui_6, lui_12, lui_18, lui_24),
    ('Neisse Central', dates_b, nei_6, nei_12, nei_18, nei_24),
    ('Taió', dates_b, tai_6, tai_12, tai_18, tai_24),
    ('Timbo Novo', dates_b, tim_6, tim_12, tim_18, tim_24),
    ('Vila Nova', dates_b, vil_6, vil_12, vil_18, vil_24),
]

series_names = ['SSFI6', 'SSFI12', 'SSFI18', 'SSFI24']
colors = ['#1f77b4', '#ff7f0e', '#2ca02c', '#d62728']

W, H = 1151, 1640
fig = plt.figure(figsize=(W / 100, H / 100), dpi=100)

ticks = mdates.date2num([pd.Timestamp('%d-12-01' % y).to_pydatetime() for y in tick_years])
xlim = mdates.date2num([pd.Timestamp('1989-06-01').to_pydatetime(), pd.Timestamp('2022-06-01').to_pydatetime()])
bottom_panels = ['Timbo Novo', 'Vila Nova']

for k, (name, t, s6, s12, s18, s24) in enumerate(panels):
    row, col = divmod(k, 2)
    x0 = 76 if col == 0 else 619
    y_top = 15 + 171 * row
    ax = fig.add_axes([x0 / W, 1 - (y_top + 142) / H, 527 / W, 142 / H])
    tt = mdates.date2num(list(t.to_pydatetime()))
    for s, c, lab in zip([s6, s12, s18, s24], colors, series_names):
        ax.plot(tt, s, color=c, lw=2.2, label=lab)
    ax.axhline(0, color='black', lw=2)
    ax.set_ylim(-6, 6)
    ax.set_yticks(range(-6, 7, 2))
    ax.set_xlim(xlim)
    ax.set_xticks(ticks)
    for sp in ax.spines.values():
        sp.set_color('0.6')
        sp.set_linewidth(1.2)
    ax.tick_params(colors='0.6', labelcolor='black', labelsize=12)
    ax.text(0.005, 0.975, name, transform=ax.transAxes, fontsize=16.5, va='top', ha='left')
    if col == 0:
        ax.set_ylabel('SSFI', fontsize=13, labelpad=6)
    else:
        ax.set_yticklabels([])
    if name in bottom_panels:
        ax.set_xticklabels(tick_labels, fontsize=12.5)
        ax.set_xlabel('Time', fontsize=16.5)
    else:
        ax.set_xticklabels([])
    if k == 0:
        handles, labels = ax.get_legend_handles_labels()

fig.legend(handles, labels, loc='center', bbox_to_anchor=(0.522, 0.009), ncol=4,
           frameon=False, fontsize=14, handlelength=2.3, columnspacing=2.2)

fig.savefig('out.png', dpi=100)
